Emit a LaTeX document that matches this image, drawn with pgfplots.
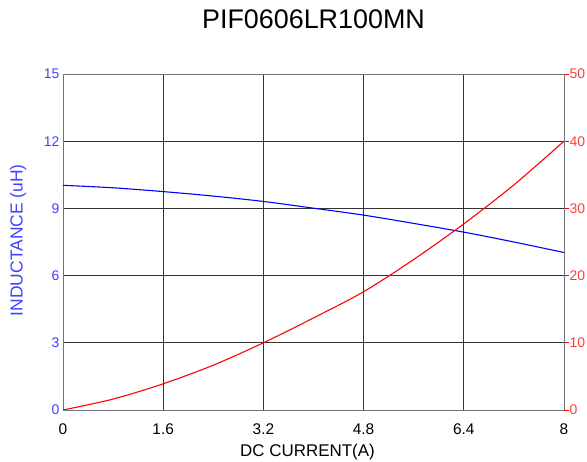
\documentclass[border=0pt]{standalone}
\usepackage{fontspec}
\setmainfont{Liberation Sans}
\usepackage{pgfplots}
\pgfplotsset{compat=1.18}
\definecolor{lblblue}{RGB}{64,64,255}
\definecolor{lblred}{RGB}{255,60,60}
\begin{document}
\begin{tikzpicture}
\path[use as bounding box] (0,0) rectangle (587bp,462bp);
\begin{axis}[
  at={(63bp,52bp)}, anchor=south west,
  scale only axis, width=501bp, height=336bp,
  xmin=0, xmax=8, ymin=0, ymax=15,
  xtick={0,1.6,3.2,4.8,6.4,8},
  ytick={0,3,6,9,12,15},
  xticklabels={0,1.6,3.2,4.8,6.4,8},
  /pgf/number format/assume math mode=true,
  grid=major,
  major grid style={black!80, line width=0.7pt},
  major tick length=0pt,
  axis line style={black!55, line width=0.8pt},
  yticklabel style={font=\fontsize{14}{15}\selectfont, color=lblblue, xshift=0bp},
  xticklabel style={font=\fontsize{15.5}{17}\selectfont, color=black, yshift=-10bp},
  axis y line*=left,
  title={PIF0606LR100MN},
  title style={font=\fontsize{27}{30}\selectfont, anchor=center, at={(axis description cs:0.5,1)}, yshift=49bp},
  xlabel={DC CURRENT(A)},
  xlabel style={font=\fontsize{17}{19}\selectfont, anchor=center, at={(axis description cs:0.5,0)}, yshift=-42bp, xshift=-6bp},
  ylabel={INDUCTANCE (uH)},
  ylabel style={font=\fontsize{17.5}{19}\selectfont, color=lblblue, anchor=center, at={(axis description cs:-0.0898,0.505)}},
]
\draw[black!55, line width=0.8pt] (axis cs:0,15) -- (axis cs:8,15);
\draw[black!55, line width=0.8pt] (axis cs:0,0) -- (axis cs:8,0);
\addplot[blue, line width=1.1pt, smooth] coordinates {
(0,10.03) (0.8,9.92) (1.6,9.75) (2.4,9.55) (3.2,9.31) (4.0,9.01) (4.8,8.70) (5.6,8.33) (6.4,7.94) (7.2,7.50) (8,7.03)
};
\end{axis}
\begin{axis}[
  at={(63bp,52bp)}, anchor=south west,
  scale only axis, width=501bp, height=336bp,
  xmin=0, xmax=8, ymin=0, ymax=50,
  axis x line=none,
  axis y line*=right,
  ytick={0,10,20,30,40,50},
  /pgf/number format/assume math mode=true,
  yticklabel style={font=\fontsize{14}{15}\selectfont, color=lblred, xshift=-3bp},
  axis line style={black!55, line width=0.8pt},
  tick style={red, line width=0.9pt},
  major tick length=5bp,
  tick align=outside,
]
\addplot[red, line width=1.1pt, smooth] coordinates {
(0,0) (0.8,1.63) (1.6,3.9) (2.4,6.67) (3.2,10.0) (4.0,13.7) (4.8,17.6) (5.6,22.4) (6.4,27.7) (7.2,33.5) (8,40)
};
\end{axis}
\end{tikzpicture}
\end{document}
